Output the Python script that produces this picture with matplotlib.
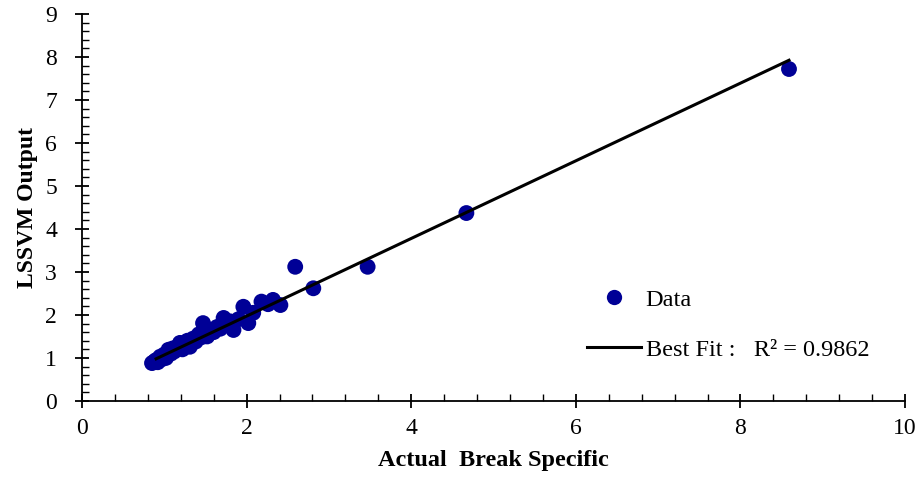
import numpy as np
import matplotlib
matplotlib.use('Agg')
import matplotlib.pyplot as plt
from matplotlib.ticker import MultipleLocator
from matplotlib.lines import Line2D

plt.rcParams['font.family'] = ['Liberation Serif', 'DejaVu Serif']

# Data
actual = [0.85, 0.88, 0.90, 0.92, 0.95, 0.97, 1.00, 1.02, 1.05, 1.08, 1.10, 1.12,
          1.15, 1.19, 1.22, 1.25, 1.28, 1.31, 1.35, 1.38, 1.42, 1.45, 1.47, 1.52,
          1.56, 1.60, 1.64, 1.68, 1.72, 1.76, 1.80, 1.84, 1.90, 1.96, 2.02, 2.08,
          2.18, 2.26, 2.32, 2.41, 2.59, 2.81, 3.47, 4.67, 8.59]
predicted = [0.88, 0.92, 0.95, 0.90, 1.03, 0.97, 1.08, 1.00, 1.19, 1.10, 1.22, 1.15,
             1.25, 1.35, 1.20, 1.33, 1.40, 1.26, 1.45, 1.38, 1.55, 1.48, 1.81, 1.50,
             1.65, 1.60, 1.72, 1.68, 1.93, 1.80, 1.85, 1.65, 1.90, 2.19, 1.81, 2.05,
             2.31, 2.25, 2.35, 2.23, 3.12, 2.62, 3.12, 4.37, 7.72]

fit_slope = 0.903
fit_intercept = 0.167
r_squared = 0.9862

fig = plt.figure(figsize=(9.22, 4.79), dpi=100)
ax = fig.add_axes([0.089, 0.163, 0.8926, 0.8078])

ax.scatter(actual, predicted, s=130, color='#000096', zorder=2, edgecolors='none')

fit_x = np.array([min(actual) + 0.05, max(actual)])
ax.plot(fit_x, fit_intercept + fit_slope * fit_x, color='black', linewidth=2.2, zorder=3)

ax.set_xlim(0, 10)
ax.set_ylim(0, 9)
ax.xaxis.set_major_locator(MultipleLocator(2))
ax.xaxis.set_minor_locator(MultipleLocator(0.4))
ax.yaxis.set_major_locator(MultipleLocator(1))
ax.yaxis.set_minor_locator(MultipleLocator(0.2))

for s in ['top', 'right']:
    ax.spines[s].set_visible(False)
for s in ['left', 'bottom']:
    ax.spines[s].set_linewidth(1.3)

ax.tick_params(which='major', direction='inout', length=10, width=1.3, labelsize=17)
ax.tick_params(axis='x', which='major', pad=7)
ax.tick_params(axis='y', which='major', pad=13)
ax.tick_params(which='minor', direction='in', length=5, width=1.0)

ax.set_xlabel('Actual  Break Specific', fontsize=17.5, fontweight='bold', labelpad=8)
ax.set_ylabel('LSSVM Output', fontsize=17, fontweight='bold', labelpad=5)

handles = [Line2D([], [], marker='o', linestyle='none', markersize=11,
                  markerfacecolor='#000096', markeredgecolor='none'),
           Line2D([], [], color='black', linewidth=2.2)]
labels = ['Data', 'Best Fit :   R\u00b2 = %.4f' % r_squared]
ax.legend(handles, labels, loc='upper left', bbox_to_anchor=(0.614, 0.29),
          frameon=False, fontsize=17.5, handlelength=2.2, handletextpad=0.2,
          labelspacing=1.15, borderpad=0, borderaxespad=0)

fig.savefig('out.png', dpi=100)
